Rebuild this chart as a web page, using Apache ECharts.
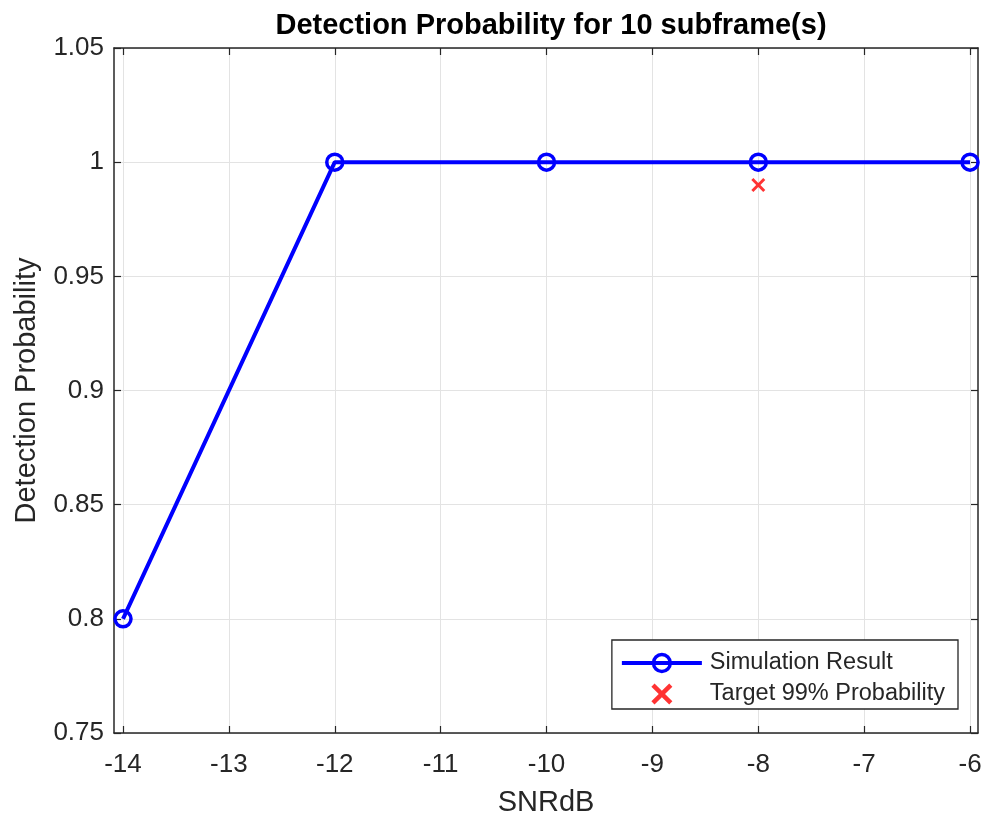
<!DOCTYPE html>
<html><head><meta charset="utf-8">
<script src="https://cdn.jsdelivr.net/npm/echarts@6/dist/echarts.min.js"></script>
<style>html,body{margin:0;padding:0;background:#fff}#c{width:984px;height:817px}</style>
</head><body><div id="c"></div>
<script>
const snr = [-14, -12, -10, -8, -6];
const detProb = [0.8, 1, 1, 1, 1];
const targetX = [-8];
const targetY = [0.99];
const xTicks = [-14, -13, -12, -11, -10, -9, -8, -7, -6];
const yTicks = [0.75, 0.8, 0.85, 0.9, 0.95, 1, 1.05];

const font = 'Liberation Sans, Arial, Helvetica, sans-serif';
const axisCol = '#262626';
const xMin = -14.085, xMax = -5.925;
const crossPath = 'path://M0,1.5 L1.5,0 L5,3.5 L8.5,0 L10,1.5 L6.5,5 L10,8.5 L8.5,10 L5,6.5 L1.5,10 L0,8.5 L3.5,5 Z';

const chart = echarts.init(document.getElementById('c'), null, {renderer: 'canvas'});
const baseX = {
  type: 'value', min: xMin, max: xMax,
  axisLine: {show: true, onZero: false, lineStyle: {color: axisCol, width: 1.5}},
  axisTick: {show: true, inside: true, length: 7, customValues: xTicks, lineStyle: {color: axisCol, width: 1.2}},
  splitLine: {show: false}
};
const baseY = {
  type: 'value', min: 0.75, max: 1.05, interval: 0.05,
  axisLine: {show: true, onZero: false, lineStyle: {color: axisCol, width: 1.5}},
  axisTick: {show: true, inside: true, length: 7, lineStyle: {color: axisCol, width: 1.2}},
  splitLine: {show: false}
};
chart.setOption({
  animation: false,
  backgroundColor: '#fff',
  title: {
    text: 'Detection Probability for 10 subframe(s)', left: 546, top: 6, textAlign: 'center',
    textStyle: {fontFamily: font, fontSize: 29, fontWeight: 'bold', color: '#000'}
  },
  grid: {left: 114, right: 6, top: 48, bottom: 84, containLabel: false, outerBoundsMode: 'none'},
  legend: {
    right: 26, top: 640, orient: 'vertical', itemWidth: 80, itemHeight: 21, itemGap: 7,
    padding: [11, 13, 3, 8],
    borderColor: axisCol, borderWidth: 1.3, backgroundColor: '#fff',
    textStyle: {fontFamily: font, fontSize: 23.5, color: '#262626', padding: [0, 0, 0, 3]},
    data: [
      {name: 'Simulation Result', lineStyle: {width: 4, color: '#0000ff'},
       itemStyle: {color: 'rgba(0,0,0,0)', borderColor: '#0000ff', borderWidth: 3.5}},
      {name: 'Target 99% Probability'}
    ]
  },
  xAxis: [
    Object.assign({}, baseX, {
      position: 'bottom',
      name: 'SNRdB', nameLocation: 'middle', nameGap: 55,
      nameTextStyle: {fontFamily: font, fontSize: 29, color: '#262626'},
      axisLabel: {show: true, customValues: xTicks, margin: 19, fontFamily: font, fontSize: 26, color: '#262626'},
      splitLine: {show: true, lineStyle: {color: '#e3e3e3', width: 1}}
    }),
    Object.assign({}, baseX, {position: 'top', axisLabel: {show: false}})
  ],
  yAxis: [
    Object.assign({}, baseY, {
      position: 'left',
      name: 'Detection Probability', nameLocation: 'middle', nameGap: 73,
      nameTextStyle: {fontFamily: font, fontSize: 29, color: '#262626'},
      axisLabel: {show: true, margin: 10, fontFamily: font, fontSize: 26, color: '#262626',
        formatter: v => String(Math.round(v * 100) / 100)},
      splitLine: {show: true, lineStyle: {color: '#e3e3e3', width: 1}}
    }),
    Object.assign({}, baseY, {position: 'right', axisLabel: {show: false}})
  ],
  series: [
    {
      name: 'Simulation Result', type: 'line',
      data: snr.map((x, i) => [x, detProb[i]]),
      symbol: 'circle', symbolSize: 16, showSymbol: true,
      lineStyle: {color: '#0000ff', width: 4},
      itemStyle: {color: 'rgba(0,0,0,0)', borderColor: '#0000ff', borderWidth: 3.5},
      z: 3
    },
    {
      name: 'Target 99% Probability', type: 'scatter',
      data: targetX.map((x, i) => [x, targetY[i]]),
      symbol: crossPath, symbolSize: 14,
      itemStyle: {color: '#ff0000'},
      z: 4
    }
  ]
});
</script></body></html>
